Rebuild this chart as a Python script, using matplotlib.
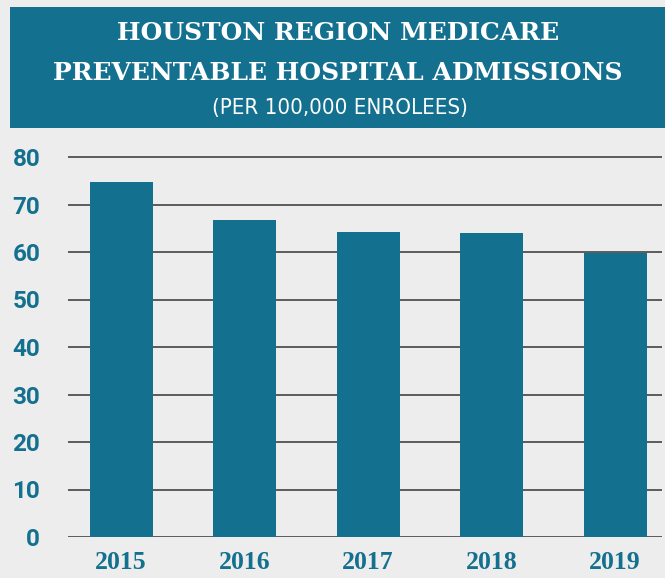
import matplotlib.pyplot as plt
from matplotlib import font_manager
from matplotlib.patches import Rectangle

years = ['2015', '2016', '2017', '2018', '2019']
admissions = [74.8, 66.8, 64.2, 64.0, 59.8]
y_ticks = [0, 10, 20, 30, 40, 50, 60, 70, 80]

teal = '#14708f'
bg = '#ededed'

# look for any narrow / condensed face for the subtitle
narrow = None
for f in font_manager.fontManager.ttflist:
    tag = (f.name + ' ' + f.fname).lower()
    if ('condensed' in tag or 'narrow' in tag) and 'cjk' not in tag \
            and f.style == 'normal' and f.weight in (400, 'normal', 'regular'):
        narrow = f.fname
        break

fig = plt.figure(figsize=(6.65, 5.78), dpi=100, facecolor=bg)

# title box
fig.patches.append(Rectangle((10 / 665, 1 - 128 / 578), 655 / 665, 121 / 578,
                             transform=fig.transFigure, facecolor=teal,
                             edgecolor='none', zorder=0))
fig.text(338 / 665, 1 - 33 / 578, 'HOUSTON REGION MEDICARE', color='white',
         fontsize=18, fontweight='bold', family='DejaVu Serif',
         ha='center', va='center')
fig.text(338 / 665, 1 - 73 / 578, 'PREVENTABLE HOSPITAL ADMISSIONS', color='white',
         fontsize=18, fontweight='bold', family='DejaVu Serif',
         ha='center', va='center')
if narrow:
    props = font_manager.FontProperties(fname=narrow, size=17)
else:
    props = font_manager.FontProperties(family='DejaVu Sans', size=17)
sub = fig.text(340 / 665, 1 - 108 / 578, '(PER 100,000 ENROLEES)', color='white',
               ha='center', va='center', fontproperties=props)
# fit subtitle close to the width seen in the reference
renderer = fig.canvas.get_renderer()
w = sub.get_window_extent(renderer).width
sub.set_fontsize(min(17 * 255 / w, 21))

ax = fig.add_axes([68 / 665, 1 - 537 / 578, 594 / 665, (537 - 147.5) / 578])
ax.set_facecolor(bg)

x = range(len(years))
ax.bar(x, admissions, width=0.51, color=teal, zorder=3)

ax.set_xlim(-0.43, 4.38)
ax.set_ylim(0, 82)
ax.set_yticks(y_ticks)
ax.set_xticks(list(x))
ax.set_xticklabels(years)
ax.yaxis.grid(True, color='#505050', linewidth=1.3, zorder=0)
ax.set_axisbelow(True)
for s in ax.spines.values():
    s.set_visible(False)
ax.tick_params(length=0)
ax.tick_params(axis='y', pad=20, labelsize=17.5, labelcolor=teal)
ax.tick_params(axis='x', pad=10, labelsize=18.5, labelcolor=teal)
for lbl in ax.get_yticklabels():
    lbl.set_fontweight('bold')
    lbl.set_family('Roboto')
for lbl in ax.get_xticklabels():
    lbl.set_fontweight('bold')
    lbl.set_family('Liberation Serif')

fig.savefig('out.png', dpi=100, facecolor=bg)
